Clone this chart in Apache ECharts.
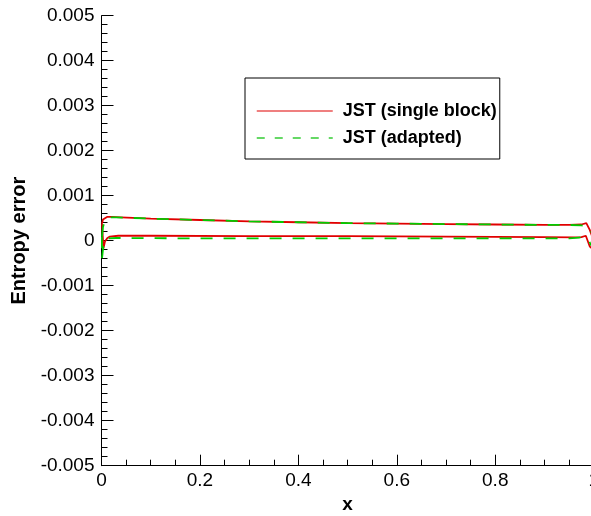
<!DOCTYPE html>
<html>
<head>
<meta charset="utf-8">
<script src="https://cdn.jsdelivr.net/npm/echarts@6/dist/echarts.min.js"></script>
<style>
html,body{margin:0;padding:0;background:#fff;}
#chart{width:591px;height:516px;}
</style>
</head>
<body>
<div id="chart"></div>
<script>
// ---- data ----
const seriesNames = ['JST (single block)', 'JST (adapted)'];

const redUpperX = [0.001, 0.003, 0.006, 0.012, 0.02, 0.04, 0.1, 0.2, 0.3, 0.4, 0.5, 0.6, 0.7, 0.8, 0.9, 0.95, 0.975, 0.985, 0.989, 0.992, 0.996, 1.0];
const redUpperY = [0.00038, 0.00047, 0.00051, 0.00053, 0.00053, 0.00052, 0.00049, 0.00046, 0.00043, 0.00041, 0.00039, 0.00038, 0.00037, 0.00036, 0.00035, 0.00035, 0.00036, 0.00039, 0.00037, 0.00024, 0.00012, 0.00005];

const redLowerX = [0.001, 0.004, 0.007, 0.012, 0.017, 0.034, 0.1, 0.3, 0.5, 0.7, 0.9, 0.96, 0.975, 0.984, 0.988, 0.992, 1.0];
const redLowerY = [0.00038, -0.00017, -0.00002, 0.00006, 0.00009, 0.00011, 0.00011, 0.0001, 0.0001, 0.00009, 0.00008, 0.000075, 0.00008, 0.00011, 0.00009, -0.00013, -0.0002];

const greenUpperX = [0.001, 0.003, 0.006, 0.011, 0.017, 0.03, 0.1, 0.2, 0.3, 0.4, 0.5, 0.6, 0.7, 0.8, 0.9, 0.95, 0.975, 0.985, 0.99, 0.995, 1.0];
const greenUpperY = [0.0001, 0.0003, 0.00042, 0.0005, 0.00052, 0.00052, 0.00049, 0.00046, 0.00043, 0.00041, 0.00039, 0.00038, 0.00037, 0.00036, 0.00035, 0.00035, 0.00034, 0.00033, 0.0003, 0.0002, 0.0001];

const greenLowerX = [0.0008, 0.001, 0.002, 0.004, 0.006, 0.012, 0.03, 0.2, 0.5, 0.8, 0.95, 0.97, 0.98, 0.985, 0.99, 0.995, 1.0];
const greenLowerY = [0.0001, -0.0004, -0.0003, -0.0001, 0.00002, 0.00005, 0.00006, 0.00005, 0.00005, 0.00005, 0.00005, 0.00007, 0.00008, 0.00006, 0.0, -0.0001, -0.00015];

const xTickLabels = ['0', '0.2', '0.4', '0.6', '0.8', '1'];
const yTickLabels = ['-0.005', '-0.004', '-0.003', '-0.002', '-0.001', '0', '0.001', '0.002', '0.003', '0.004', '0.005'];
const xMin = 0, xMax = 1, xStep = 0.2;
const yMin = -0.005, yMax = 0.005, yStep = 0.001;

// ---- chart ----
function pairs(xs, ys) { return xs.map((x, i) => [x, ys[i]]); }
const RED = '#e00000', GREEN = '#00cc00';
const FONT = 'Liberation Sans, Arial, Helvetica, sans-serif';

const chart = echarts.init(document.getElementById('chart'), null, {renderer: 'canvas'});
const lineSeries = (name, xs, ys, color, dashed, z) => ({
  name: name, type: 'line', data: pairs(xs, ys), symbol: 'none', showSymbol: false,
  smooth: false, z: z, animation: false,
  lineStyle: {color: color, width: 1.8, type: dashed ? [12, 11] : 'solid'},
  itemStyle: {color: color}
});

chart.setOption({
  backgroundColor: '#fff',
  animation: false,
  grid: {left: 101.5, top: 15.7, width: 492.2, height: 450, containLabel: false, outerBoundsMode: 'none'},
  legend: {
    show: true,
    orient: 'vertical', left: 245, top: 78,
    padding: [24, 3, 12, 11], itemGap: 9,
    itemWidth: 76, itemHeight: 18,
    borderColor: '#000', borderWidth: 1, backgroundColor: '#fff',
    itemStyle: {opacity: 0},
    textStyle: {fontFamily: FONT, fontWeight: 'bold', fontSize: 18, color: '#000', padding: [0, 0, 0, 5]},
    data: [
      {name: seriesNames[0], itemStyle: {opacity: 0}, lineStyle: {width: 1.2, type: 'solid', color: RED}},
      {name: seriesNames[1], itemStyle: {opacity: 0}, lineStyle: {width: 1.5, type: [8, 10], color: '#33cc33'}}
    ]
  },
  xAxis: {
    type: 'value', min: xMin, max: xMax, interval: xStep,
    name: 'x', nameLocation: 'middle', nameGap: 30,
    nameTextStyle: {fontFamily: FONT, fontWeight: 'bold', fontSize: 19, color: '#000'},
    axisLine: {show: true, onZero: false, lineStyle: {color: '#000', width: 1}},
    axisTick: {show: true, inside: true, length: 11, lineStyle: {color: '#000', width: 1}},
    minorTick: {show: true, splitNumber: 4, length: 6, lineStyle: {color: '#000', width: 1}},
    splitLine: {show: false},
    axisLabel: {fontFamily: FONT, fontSize: 19, color: '#000', margin: 6,
      formatter: v => xTickLabels[Math.round((v - xMin) / xStep)]}
  },
  yAxis: {
    type: 'value', min: yMin, max: yMax, interval: yStep,
    name: 'Entropy error', nameLocation: 'middle', nameGap: 62, nameRotate: 90,
    nameTextStyle: {fontFamily: FONT, fontWeight: 'bold', fontSize: 20, color: '#000'},
    axisLine: {show: true, onZero: false, lineStyle: {color: '#000', width: 1}},
    axisTick: {show: true, inside: true, length: 12, lineStyle: {color: '#000', width: 1}},
    minorTick: {show: true, splitNumber: 5, length: 6, lineStyle: {color: '#000', width: 1}},
    splitLine: {show: false},
    axisLabel: {fontFamily: FONT, fontSize: 19, color: '#000', margin: 7,
      formatter: v => yTickLabels[Math.round((v - yMin) / yStep)]}
  },
  series: [
    lineSeries(seriesNames[0], redUpperX, redUpperY, RED, false, 2),
    lineSeries(seriesNames[0], redLowerX, redLowerY, RED, false, 2),
    lineSeries(seriesNames[1], greenUpperX, greenUpperY, GREEN, true, 3),
    lineSeries(seriesNames[1], greenLowerX, greenLowerY, GREEN, true, 3)
  ]
});
</script>
</body>
</html>
